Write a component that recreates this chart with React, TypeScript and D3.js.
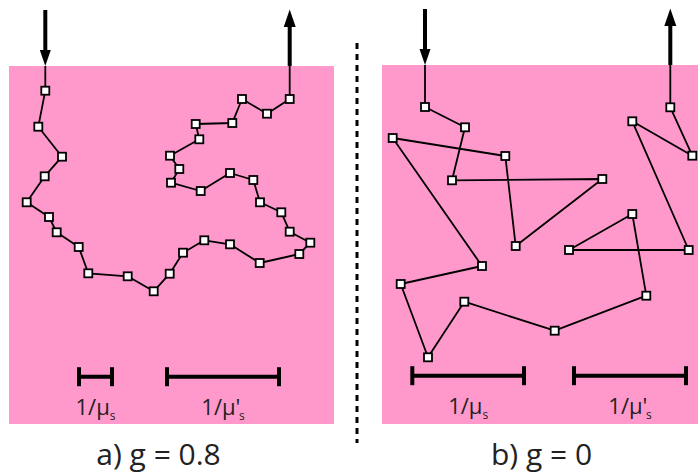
import React from "react";
import * as d3 from "d3";

// Panel a (g = 0.8): photon path vertices, in panel units
const pathAX = [36.3, 29.3, 53, 35.7, 17.7, 40, 47.7, 69.7, 79.3, 118.7, 144.7, 160.7, 174, 195.3, 221, 250.7, 290.3, 301.3, 280.7, 272.3, 251, 244.3, 221, 191.7, 162, 170.3, 161, 190.3, 186.7, 223.3, 233, 258, 280.7];
const pathAY = [24.7, 60.7, 90.7, 110.3, 136.3, 151, 166.3, 181, 207.3, 210.3, 225.3, 207.7, 186.7, 174.3, 178.3, 197, 188, 176.7, 165.7, 146.3, 136.3, 114, 107, 125, 116.7, 103, 89.7, 73.3, 58, 57, 33, 47.7, 33];

// Panel b (g = 0)
const pathBX = [43, 83, 70, 220.3, 133.7, 123.3, 10.7, 100, 18.7, 46, 82.3, 172.7, 264.3, 250.3, 187, 306.7, 250.3, 310.3, 288.3];
const pathBY = [42, 62.3, 115.3, 114, 181, 91, 73, 201, 219, 292.3, 236.7, 265.7, 230.7, 149, 185, 185, 56.3, 90.7, 42.3];

// Scale bars: [start, end] in panel units
const barsA = [[70, 103], [158, 270]];
const barsB = [[30.3, 142], [192, 304]];
const barLabels = ["1/μ", "1/μ'"];
const titles = ["a) g = 0.8", "b) g = 0"];

const PINK = "#ff99cc";
const FONT = "'Open Sans', sans-serif";

type PanelProps = {
  left: number; top: number; width: number; height: number;
  xs: number[]; ys: number[]; bars: number[][]; title: string; titleX: number;
};

function Panel({ left, top, width, height, xs, ys, bars, title, titleX }: PanelProps) {
  const x = d3.scaleLinear().domain([0, width]).range([left, left + width]);
  const y = d3.scaleLinear().domain([0, height]).range([top, top + height]);
  const pts: [number, number][] = xs.map((v, i) => [x(v), y(ys[i])]);
  const line = d3.line();
  const first = pts[0];
  const last = pts[pts.length - 1];
  const inX = first[0];
  const outX = last[0];
  const barY = y(310.7);
  const sq = 8;
  return (
    <g>
      <rect x={x(0)} y={y(0)} width={x(width) - x(0)} height={y(height) - y(0)} fill={PINK} />
      <path d={line([[inX, y(0)], ...pts, [outX, y(0)]]) || ""} fill="none" stroke="#000" strokeWidth={1.8} strokeLinejoin="round" />
      <line x1={inX} x2={inX} y1={y(-56)} y2={y(-14)} stroke="#000" strokeWidth={4} />
      <path d={`M${inX - 5.5},${y(-16)}L${inX + 5.5},${y(-16)}L${inX},${y(0)}Z`} fill="#000" />
      <line x1={outX} x2={outX} y1={y(0)} y2={y(-41)} stroke="#000" strokeWidth={4} />
      <path d={`M${outX - 6},${y(-39)}L${outX + 6},${y(-39)}L${outX},${y(-56.5)}Z`} fill="#000" />
      {pts.map((p, i) => (
        <rect key={i} x={p[0] - sq / 2} y={p[1] - sq / 2} width={sq} height={sq} fill="#fff" stroke="#000" strokeWidth={1.8} />
      ))}
      {bars.map((b, i) => {
        const x0 = x(b[0]);
        const x1 = x(b[1]);
        const cx = (x0 + x1) / 2;
        return (
          <g key={i}>
            <line x1={x0} x2={x1} y1={barY} y2={barY} stroke="#000" strokeWidth={4} />
            <line x1={x0} x2={x0} y1={barY - 9.5} y2={barY + 9.5} stroke="#000" strokeWidth={4} />
            <line x1={x1} x2={x1} y1={barY - 9.5} y2={barY + 9.5} stroke="#000" strokeWidth={4} />
            <text x={cx} y={barY + 38} textAnchor="middle" fontFamily={FONT} fontSize={22} fill="#222">
              {barLabels[i]}
              <tspan fontSize={12} dx={i === 1 ? -1.5 : 0} dy={5}>s</tspan>
            </text>
          </g>
        );
      })}
      <text x={titleX} y={465} textAnchor="middle" fontFamily={FONT} fontSize={30} fill="#222">{title}</text>
    </g>
  );
}

export default function App() {
  return (
    <svg width={698} height={474} style={{ position: "absolute", left: 0, top: 0 }}>
      <rect width={698} height={474} fill="#fff" />
      <Panel left={9} top={66} width={325} height={358} xs={pathAX} ys={pathAY} bars={barsA} title={titles[0]} titleX={158.5} />
      <Panel left={382} top={65} width={316} height={359} xs={pathBX} ys={pathBY} bars={barsB} title={titles[1]} titleX={541.5} />
      <line x1={357} x2={357} y1={43} y2={443} stroke="#000" strokeWidth={3} strokeDasharray="6 5" />
    </svg>
  );
}
